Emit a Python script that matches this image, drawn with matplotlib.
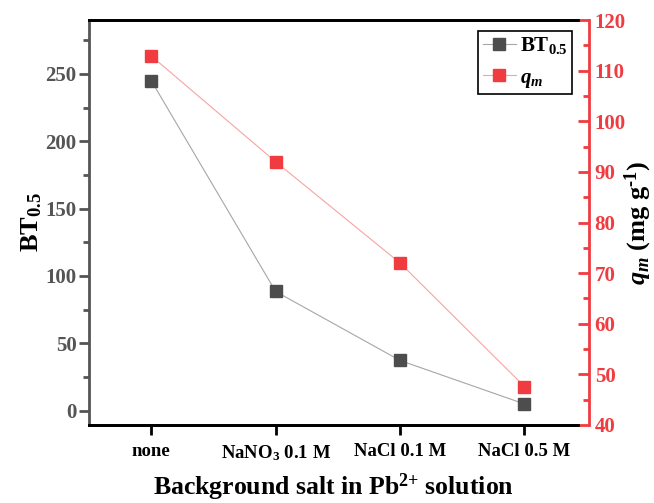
import matplotlib
matplotlib.use("Agg")
import matplotlib.pyplot as plt
from matplotlib.ticker import MultipleLocator

plt.rcParams['font.family'] = ['Liberation Serif', 'DejaVu Serif']
plt.rcParams['font.weight'] = 'bold'
plt.rcParams['mathtext.fontset'] = 'custom'
plt.rcParams['mathtext.rm'] = 'Liberation Serif:bold'
plt.rcParams['mathtext.bf'] = 'Liberation Serif:bold'
plt.rcParams['mathtext.it'] = 'Liberation Serif:italic:bold'

categories = ['none', 'NaNO$_3$ 0.1 M', 'NaCl 0.1 M', 'NaCl 0.5 M']
bt05 = [245, 88.5, 37.3, 5.0]
qm = [112.9, 92.0, 72.0, 47.6]

gray_m = '#4d4d4d'
gray_l = '#a6a6a6'
red_m = '#f03c40'
red_l = '#f7a3a3'
left_c = '#555555'

fig = plt.figure(figsize=(6.54, 5.03), dpi=100)
ax = fig.add_axes([89/654, 1-425/503, (578-89)/654, (425-20)/503])
ax2 = ax.twinx()

x = list(range(len(categories)))
l1, = ax.plot(x, bt05, color=gray_l, lw=0.8, marker='s', ms=8.4,
              mfc=gray_m, mec=gray_m, label='BT$_{0.5}$')
l2, = ax2.plot(x, qm, color=red_l, lw=0.8, marker='s', ms=8.4,
               mfc=red_m, mec=red_m, label='$q_m$')

ax.set_xlim(-0.5, 3.43)
ax.set_ylim(-10.6, 290)
ax2.set_ylim(40, 120)

ax.set_xticks(x)
ax.set_xticklabels(categories, fontsize=13.5, fontweight='bold')
ax.yaxis.set_major_locator(MultipleLocator(50))
ax.yaxis.set_minor_locator(MultipleLocator(25))
ax2.yaxis.set_major_locator(MultipleLocator(10))
ax2.yaxis.set_minor_locator(MultipleLocator(5))

ax.tick_params(axis='x', direction='out', length=7, width=2, color='black', pad=6)
ax.tick_params(axis='y', which='major', direction='out', length=7, width=2,
               colors=left_c, labelsize=15, pad=2)
ax.tick_params(axis='y', which='minor', direction='out', length=4, width=2, colors=left_c)
ax2.tick_params(axis='y', which='major', direction='in', length=8, width=2,
                colors=red_m, labelsize=15, pad=4)
ax2.tick_params(axis='y', which='minor', direction='in', length=4, width=2, colors=red_m)
for lab in ax.get_yticklabels() + ax2.get_yticklabels():
    lab.set_fontweight('bold')

for a in (ax, ax2):
    for s in a.spines.values():
        s.set_linewidth(2)
ax.spines['left'].set_color(left_c)
ax2.spines['left'].set_visible(False)
ax.spines['bottom'].set_color('black')
ax.spines['top'].set_color('black')
ax2.spines['top'].set_color('black')
ax2.spines['bottom'].set_color('black')
ax.spines['right'].set_visible(False)
ax2.spines['right'].set_color(red_m)
ax2.spines['right'].set_position(('outward', 8))

ax.set_xlabel('Background salt in Pb$^{2{+}}$ solution', fontsize=18.5, fontweight='bold', labelpad=6)
ax.set_ylabel('BT$_{0.5}$', fontsize=19, fontweight='bold', labelpad=1)
ax2.set_ylabel(r'$q_m$ (mg g$^{\text{-}1}$)', fontsize=19, fontweight='bold', labelpad=-2)

leg = ax2.legend([l1, l2], ['BT$_{0.5}$', '$q_m$'], loc='upper right',
                 bbox_to_anchor=(572/654, 1-31/503), bbox_transform=fig.transFigure,
                 borderaxespad=0, fancybox=False, edgecolor='black', framealpha=1,
                 fontsize=15, handlelength=1.6, handletextpad=0.2, labelspacing=0.55,
                 borderpad=0.2)
leg.get_frame().set_linewidth(1.2)

fig.savefig('out.png', dpi=100)
